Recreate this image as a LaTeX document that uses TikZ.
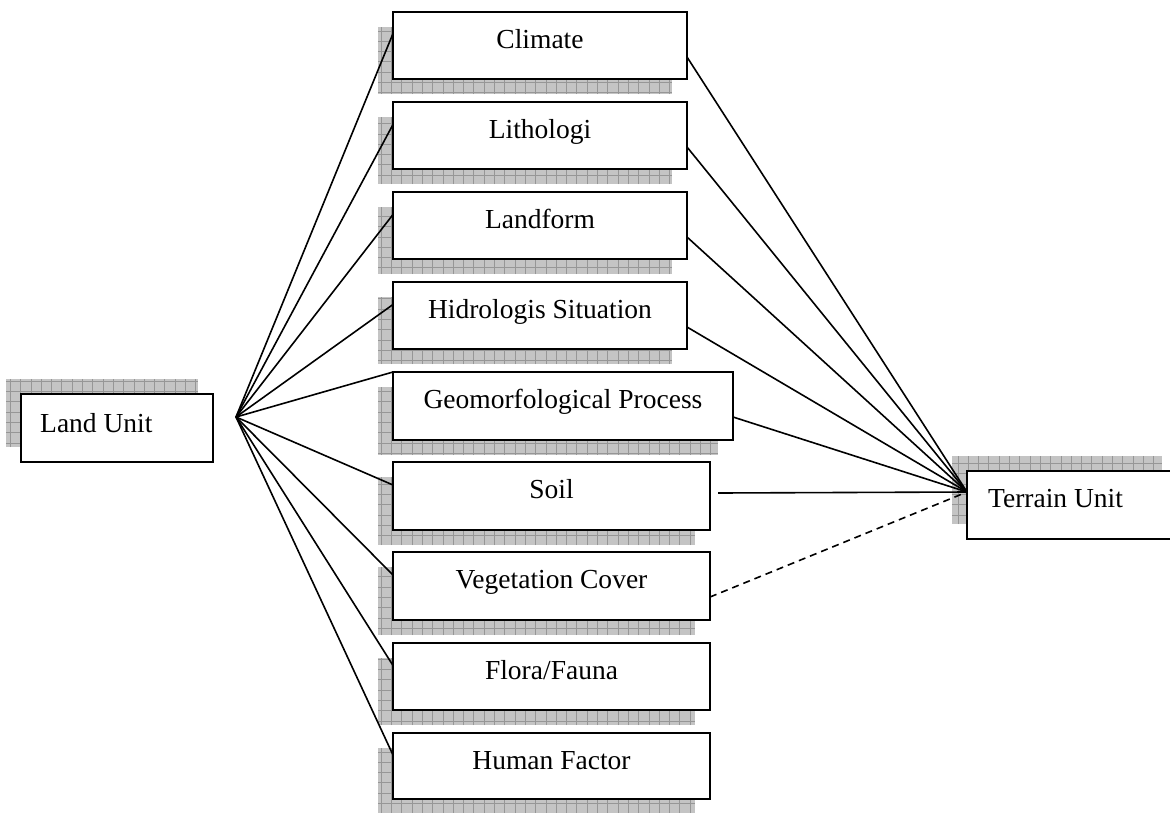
\documentclass[tikz,border=0pt]{standalone}
\usepackage{fontspec}
\setmainfont{Liberation Serif}
\usetikzlibrary{calc}
\tikzset{
  box/.style={draw=black, line width=1.9pt, fill=white, inner sep=0pt, outer sep=0pt},
  lbl/.style={font=\fontsize{27.5}{30}\selectfont, inner sep=0pt, anchor=base},
  lbll/.style={font=\fontsize{27.5}{30}\selectfont, inner sep=0pt, anchor=base west},
  conn/.style={line width=1.6pt, draw=black},
  dconn/.style={conn, dash pattern=on 7pt off 5pt},
  shfill/.style={fill={rgb,255:red,196;green,196;blue,196}},
  shgrid/.style={draw={rgb,255:red,150;green,150;blue,150}, line width=0.7pt},
}
\newcommand{\shadowrect}[4]{%
  \begin{scope}
    \clip (#1,#2) rectangle ({#1+#3},{#2+#4});
    \fill[shfill] (#1,#2) rectangle ({#1+#3},{#2+#4});
    \draw[shgrid, step=10.3pt] (#1,{#2+#4}) grid ({#1+#3},#2);
  \end{scope}}
\newcommand{\boxnode}[5]{%
  \node[box, minimum width=#4pt, minimum height=#5pt] (#1) at ({#2+#4/2},{#3+#5/2}) {};}
\begin{document}
\begin{tikzpicture}[x=1pt, y=-1pt]
\useasboundingbox (0,0) rectangle (1170,812);
\clip (0,0) rectangle (1170,812);
% shadows
\shadowrect{6}{379}{192}{68}
\shadowrect{952}{456}{210}{68}
\shadowrect{378}{27}{294}{67}
\shadowrect{378}{117}{294}{67}
\shadowrect{378}{207}{294}{67}
\shadowrect{378}{297}{294}{67}
\shadowrect{378}{387}{340}{68}
\shadowrect{378}{477}{317}{68}
\shadowrect{378}{567}{317}{68}
\shadowrect{378}{658}{317}{67}
\shadowrect{378}{748}{317}{66}
% boxes
\boxnode{land}{21}{394}{192}{68}
\boxnode{terrain}{967}{471}{210}{68}
\boxnode{climate}{393}{12}{294}{67}
\boxnode{litho}{393}{102}{294}{67}
\boxnode{landform}{393}{192}{294}{67}
\boxnode{hidro}{393}{282}{294}{67}
\boxnode{geomorf}{393}{372}{340}{68}
\boxnode{soil}{393}{462}{317}{68}
\boxnode{veg}{393}{552}{317}{68}
\boxnode{flora}{393}{643}{317}{67}
\boxnode{human}{393}{733}{317}{66}
% free ends
\coordinate (apex) at (236,417);
\coordinate (soilout) at (718,493);
\coordinate (tin) at ([yshift=13pt]terrain.west);
% connectors from Land Unit
\draw[conn] (apex) -- ([yshift=12pt]climate.west);
\draw[conn] (apex) -- ([yshift=11pt]litho.west);
\draw[conn] (apex) -- ([yshift=11pt]landform.west);
\draw[conn] (apex) -- ([yshift=11pt]hidro.west);
\draw[conn] (apex) -- (geomorf.north west);
\draw[conn] (apex) -- ([yshift=11pt]soil.west);
\draw[conn] (apex) -- ([yshift=11pt]veg.west);
\draw[conn] (apex) -- ([yshift=11pt]flora.west);
\draw[conn] (apex) -- ([yshift=11pt]human.west);
% connectors to Terrain Unit
\draw[conn] ([yshift=-11.5pt]climate.east) -- (tin);
\draw[conn] ([yshift=-11.5pt]litho.east) -- (tin);
\draw[conn] ([yshift=-11.5pt]landform.east) -- (tin);
\draw[conn] ([yshift=-11.5pt]hidro.east) -- (tin);
\draw[conn] ([yshift=-11pt]geomorf.east) -- (tin);
\draw[conn] (soilout) -- (tin);
\draw[dconn] ([yshift=-11pt]veg.east) -- (tin);
% labels
\node[lbll] (land-t) at (40,432) {Land Unit};
\node[lbll] (terrain-t) at (988,507) {Terrain Unit};
\node[lbl] (climate-t) at (540,48) {Climate};
\node[lbl] (litho-t) at (540,138) {Lithologi};
\node[lbl] (landform-t) at (540,228) {Landform};
\node[lbl] (hidro-t) at (540,318) {Hidrologis Situation};
\node[lbl] (geomorf-t) at (563,408) {Geomorfological Process};
\node[lbl] (soil-t) at (551.5,498) {Soil};
\node[lbl] (veg-t) at (551.5,588) {Vegetation Cover};
\node[lbl] (flora-t) at (551.5,679) {Flora/Fauna};
\node[lbl] (human-t) at (551.5,769) {Human Factor};
\end{tikzpicture}
\end{document}
